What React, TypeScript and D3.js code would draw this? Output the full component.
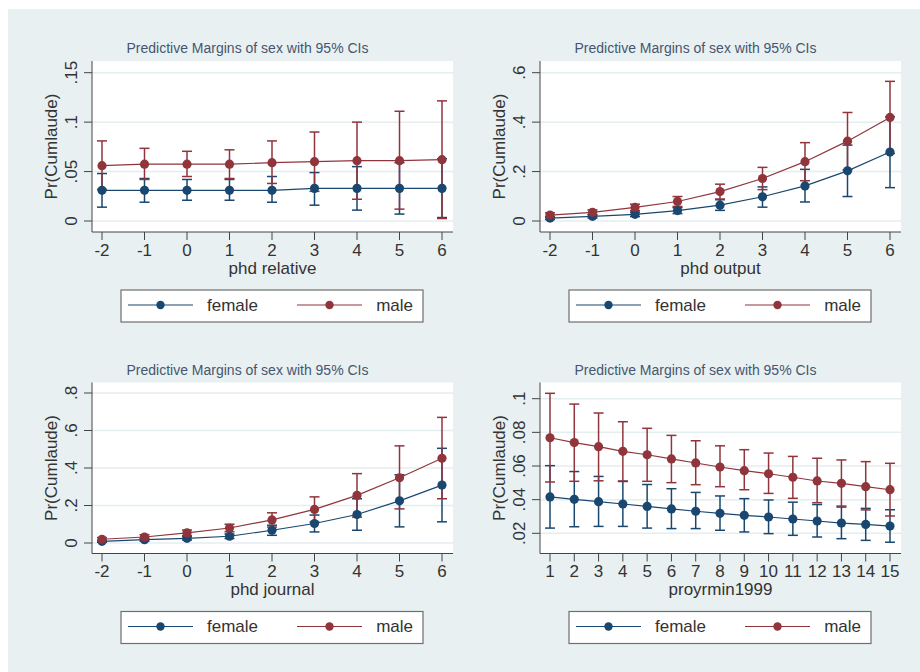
import * as d3 from "d3";

const phdX = [-2, -1, 0, 1, 2, 3, 4, 5, 6];
const yearX = [1, 2, 3, 4, 5, 6, 7, 8, 9, 10, 11, 12, 13, 14, 15];

const relFemale = [0.031, 0.031, 0.031, 0.031, 0.031, 0.033, 0.033, 0.033, 0.033];
const relFemaleLo = [0.014, 0.019, 0.021, 0.021, 0.019, 0.016, 0.011, 0.007, 0.0035];
const relFemaleHi = [0.048, 0.043, 0.042, 0.042, 0.045, 0.049, 0.055, 0.059, 0.063];
const relMale = [0.056, 0.0575, 0.0575, 0.0575, 0.059, 0.06, 0.061, 0.061, 0.062];
const relMaleLo = [0.032, 0.042, 0.045, 0.043, 0.038, 0.03, 0.022, 0.012, 0.0025];
const relMaleHi = [0.081, 0.0735, 0.0705, 0.072, 0.081, 0.09, 0.1, 0.111, 0.1215];

const outFemale = [0.012, 0.019, 0.027, 0.042, 0.064, 0.098, 0.142, 0.203, 0.279];
const outFemaleLo = [0.006, 0.012, 0.018, 0.03, 0.043, 0.056, 0.077, 0.099, 0.135];
const outFemaleHi = [0.018, 0.026, 0.036, 0.054, 0.086, 0.138, 0.209, 0.307, 0.422];
const outMale = [0.024, 0.035, 0.055, 0.079, 0.119, 0.172, 0.24, 0.323, 0.419];
const outMaleLo = [0.015, 0.025, 0.042, 0.059, 0.089, 0.127, 0.163, 0.207, 0.273];
const outMaleHi = [0.033, 0.045, 0.068, 0.099, 0.149, 0.217, 0.317, 0.439, 0.565];

const jouFemale = [0.009, 0.018, 0.025, 0.036, 0.068, 0.104, 0.152, 0.225, 0.309];
const jouFemaleLo = [0.004, 0.01, 0.016, 0.024, 0.041, 0.059, 0.068, 0.086, 0.113];
const jouFemaleHi = [0.014, 0.026, 0.034, 0.048, 0.095, 0.149, 0.236, 0.364, 0.505];
const jouMale = [0.02, 0.032, 0.054, 0.08, 0.123, 0.179, 0.254, 0.348, 0.452];
const jouMaleLo = [0.011, 0.02, 0.039, 0.06, 0.085, 0.112, 0.138, 0.182, 0.236];
const jouMaleHi = [0.029, 0.044, 0.069, 0.1, 0.161, 0.246, 0.37, 0.518, 0.67];

const yrFemale = [0.0416, 0.0402, 0.0388, 0.0374, 0.036, 0.0345, 0.0331, 0.0319, 0.0307, 0.0297, 0.0285, 0.0273, 0.0261, 0.0253, 0.0243];
const yrFemaleLo = [0.0231, 0.0239, 0.0241, 0.0241, 0.0231, 0.0228, 0.0228, 0.0218, 0.0208, 0.0198, 0.0188, 0.0178, 0.0168, 0.0158, 0.0147];
const yrFemaleHi = [0.0602, 0.0567, 0.0538, 0.0508, 0.049, 0.0465, 0.0443, 0.0422, 0.0406, 0.0398, 0.0385, 0.0371, 0.0356, 0.0348, 0.034];
const yrMale = [0.0768, 0.0739, 0.0715, 0.0687, 0.0667, 0.0642, 0.0618, 0.0594, 0.0572, 0.0554, 0.0533, 0.0511, 0.0497, 0.0477, 0.0459];
const yrMaleLo = [0.0505, 0.0509, 0.0512, 0.0511, 0.0509, 0.0501, 0.0489, 0.0477, 0.0459, 0.0437, 0.0408, 0.0382, 0.0362, 0.0339, 0.0303];
const yrMaleHi = [0.1032, 0.0968, 0.0915, 0.0863, 0.0824, 0.0782, 0.075, 0.072, 0.0697, 0.0677, 0.0657, 0.0646, 0.0636, 0.0626, 0.0616];

const relTicks = [0, 0.05, 0.1, 0.15];
const relTickLabels = ["0", ".05", ".1", ".15"];
const outTicks = [0, 0.2, 0.4, 0.6];
const outTickLabels = ["0", ".2", ".4", ".6"];
const jouTicks = [0, 0.2, 0.4, 0.6, 0.8];
const jouTickLabels = ["0", ".2", ".4", ".6", ".8"];
const yrTicks = [0.02, 0.04, 0.06, 0.08, 0.1];
const yrTickLabels = [".02", ".04", ".06", ".08", ".1"];

const TITLE = "Predictive Margins of sex with 95% CIs";
const Y_TITLE = "Pr(Cumlaude)";
const SERIES_NAMES = ["female", "male"];
const COLORS = ["#1a476f", "#90353b"];

const FONT = "'Liberation Sans', Arial, sans-serif";
const BG = "#e8f0f2";
const GRID = "#e4edf0";
const TEXT = "#333";

// panel-local layout (panels share the same frame, then get offset)
const PLOT = { left: 92, right: 453, top: 61, bottom: 232 };

type PanelProps = {
  ox: number;
  oy: number;
  xs: number[];
  xDomain: [number, number];
  yDomain: [number, number];
  yRange: [number, number];
  yTicks: number[];
  yTickLabels: string[];
  xTitle: string;
  series: { mid: number[]; lo: number[]; hi: number[] }[];
};

function Panel({ ox, oy, xs, xDomain, yDomain, yRange, yTicks, yTickLabels, xTitle, series }: PanelProps) {
  const x = d3.scaleLinear().domain(xDomain).range([102, 442]);
  const y = d3.scaleLinear().domain(yDomain).range(yRange);
  const line = d3
    .line<number>()
    .x((_, i) => x(xs[i]))
    .y((d) => y(d));
  const cx = (PLOT.left + PLOT.right) / 2;
  const legY = 305;

  return (
    <g transform={`translate(${ox},${oy})`}>
      <text x={cx - 25} y={53} textAnchor="middle" fontSize={14} fill="#46566f" fontFamily={FONT}>
        {TITLE}
      </text>
      <rect x={PLOT.left} y={PLOT.top} width={PLOT.right - PLOT.left} height={PLOT.bottom - PLOT.top} fill="#fff" />
      {yTicks.map((t) => (
        <line key={"g" + t} x1={PLOT.left} x2={PLOT.right} y1={y(t)} y2={y(t)} stroke={GRID} strokeWidth={1.5} />
      ))}

      {/* confidence intervals */}
      {series.map((s, si) =>
        xs.map((xv, i) => {
          const px = x(xv);
          return (
            <g key={`ci${si}-${i}`} stroke={COLORS[si]} strokeWidth={1.5}>
              <line x1={px} x2={px} y1={y(s.lo[i])} y2={y(s.hi[i])} />
              <line x1={px - 5} x2={px + 5} y1={y(s.lo[i])} y2={y(s.lo[i])} />
              <line x1={px - 5} x2={px + 5} y1={y(s.hi[i])} y2={y(s.hi[i])} />
            </g>
          );
        })
      )}

      {/* connected point estimates */}
      {series.map((s, si) => (
        <g key={"s" + si}>
          <path d={line(s.mid) ?? ""} fill="none" stroke={COLORS[si]} strokeWidth={1.2} />
          {s.mid.map((v, i) => (
            <circle key={i} cx={x(xs[i])} cy={y(v)} r={4.6} fill={COLORS[si]} />
          ))}
        </g>
      ))}

      {/* axes */}
      <line x1={PLOT.left} x2={PLOT.left} y1={PLOT.top} y2={PLOT.bottom} stroke="#444" strokeWidth={1} />
      <line x1={PLOT.left} x2={PLOT.right} y1={PLOT.bottom} y2={PLOT.bottom} stroke="#444" strokeWidth={1} />
      {yTicks.map((t, i) => (
        <g key={"yt" + t}>
          <line x1={PLOT.left - 8} x2={PLOT.left} y1={y(t)} y2={y(t)} stroke="#444" />
          <text
            transform={`translate(71,${y(t)}) rotate(-90)`}
            textAnchor="middle"
            dominantBaseline="central"
            fontSize={17}
            fill={TEXT}
            fontFamily={FONT}
          >
            {yTickLabels[i]}
          </text>
        </g>
      ))}
      {xs.map((xv) => (
        <g key={"xt" + xv}>
          <line x1={x(xv)} x2={x(xv)} y1={PLOT.bottom} y2={PLOT.bottom + 8} stroke="#444" />
          <text x={x(xv)} y={250} textAnchor="middle" dominantBaseline="central" fontSize={17} fill={TEXT} fontFamily={FONT}>
            {xv}
          </text>
        </g>
      ))}
      <text x={cx} y={268} textAnchor="middle" dominantBaseline="central" fontSize={17} fill={TEXT} fontFamily={FONT}>
        {xTitle}
      </text>
      <text
        transform={`translate(51,${(PLOT.top + PLOT.bottom) / 2}) rotate(-90)`}
        textAnchor="middle"
        dominantBaseline="central"
        fontSize={17}
        fill={TEXT}
        fontFamily={FONT}
      >
        {Y_TITLE}
      </text>

      {/* legend */}
      <rect x={121} y={290} width={302} height={32} fill="#fff" stroke="#6f6f6f" strokeWidth={1.2} />
      {SERIES_NAMES.map((name, i) => {
        const lx = i === 0 ? 128 : 297;
        return (
          <g key={name}>
            <line x1={lx} x2={lx + 65} y1={legY} y2={legY} stroke={COLORS[i]} strokeWidth={1.2} />
            <circle cx={lx + 32.5} cy={legY} r={4.2} fill={COLORS[i]} />
            <text
              x={i === 0 ? 207 : 413}
              y={legY}
              textAnchor={i === 0 ? "start" : "end"}
              dominantBaseline="central"
              fontSize={17}
              fill={TEXT}
              fontFamily={FONT}
            >
              {name}
            </text>
          </g>
        );
      })}
    </g>
  );
}

export default function App() {
  return (
    <svg width={920} height={672} style={{ position: "absolute", left: 0, top: 0 }}>
      <rect x={0} y={0} width={920} height={672} fill="#fff" />
      <rect x={8} y={9} width={912} height={663} fill={BG} />
      <Panel
        ox={0}
        oy={0}
        xs={phdX}
        xDomain={[-2, 6]}
        yDomain={[0, 0.15]}
        yRange={[221, 72.7]}
        yTicks={relTicks}
        yTickLabels={relTickLabels}
        xTitle="phd relative"
        series={[
          { mid: relFemale, lo: relFemaleLo, hi: relFemaleHi },
          { mid: relMale, lo: relMaleLo, hi: relMaleHi },
        ]}
      />
      <Panel
        ox={448}
        oy={0}
        xs={phdX}
        xDomain={[-2, 6]}
        yDomain={[0, 0.6]}
        yRange={[221, 72.7]}
        yTicks={outTicks}
        yTickLabels={outTickLabels}
        xTitle="phd output"
        series={[
          { mid: outFemale, lo: outFemaleLo, hi: outFemaleHi },
          { mid: outMale, lo: outMaleLo, hi: outMaleHi },
        ]}
      />
      <Panel
        ox={0}
        oy={321.5}
        xs={phdX}
        xDomain={[-2, 6]}
        yDomain={[0, 0.8]}
        yRange={[221.5, 71.5]}
        yTicks={jouTicks}
        yTickLabels={jouTickLabels}
        xTitle="phd journal"
        series={[
          { mid: jouFemale, lo: jouFemaleLo, hi: jouFemaleHi },
          { mid: jouMale, lo: jouMaleLo, hi: jouMaleHi },
        ]}
      />
      <Panel
        ox={448}
        oy={321.5}
        xs={yearX}
        xDomain={[1, 15]}
        yDomain={[0.02, 0.1]}
        yRange={[211.8, 77.2]}
        yTicks={yrTicks}
        yTickLabels={yrTickLabels}
        xTitle="proyrmin1999"
        series={[
          { mid: yrFemale, lo: yrFemaleLo, hi: yrFemaleHi },
          { mid: yrMale, lo: yrMaleLo, hi: yrMaleHi },
        ]}
      />
    </svg>
  );
}
